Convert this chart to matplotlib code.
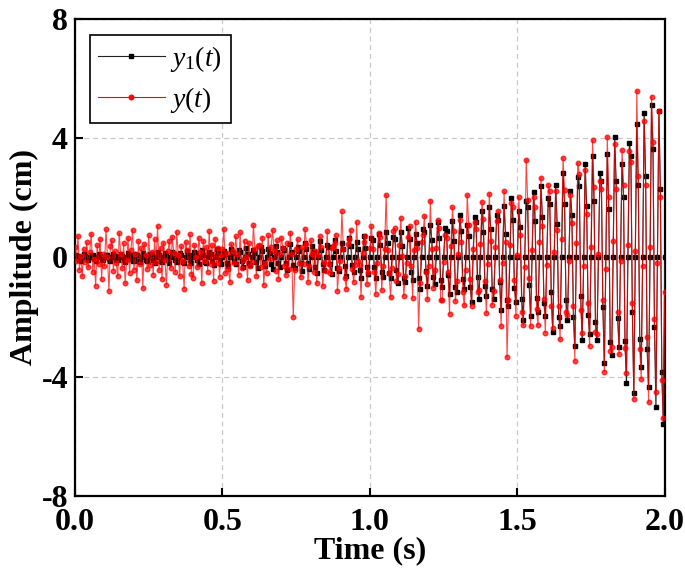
import numpy as np
import matplotlib
matplotlib.use("Agg")
import matplotlib.pyplot as plt

# time axis: 401 samples from 0 to 2 s
t_start, t_end, n_samples = 0.0, 2.0, 401

y1_vals = [
 0, 0.09, 0.05, -0.08, -0.11,  0, 0.11, 0.04, -0.06, -0.09,  0, 0.08, 0.07, -0.05, -0.12,  0, 0.12, 0.05, -0.08, -0.10,
 0, 0.10, 0.09, -0.06, -0.13,  0, 0.13, 0.05, -0.09, -0.09,  0, 0.11, 0.06, -0.07, -0.14,  0, 0.14, 0.10, -0.06, -0.12,
 0, 0.12, 0.07, -0.11, -0.15,  0, 0.16, 0.06, -0.08, -0.13,  0, 0.13, 0.11, -0.07, -0.17,  0, 0.17, 0.08, -0.12, -0.14,
 0, 0.14, 0.07, -0.09, -0.19,  0, 0.19, 0.12, -0.08, -0.16,  0, 0.16, 0.09, -0.14, -0.20,  0, 0.21, 0.08, -0.10, -0.17,
 0, 0.17, 0.14, -0.09, -0.23,  0, 0.24, 0.10, -0.15, -0.19,  0, 0.19, 0.12, -0.11, -0.26,  0, 0.27, 0.16, -0.10, -0.21,
 0, 0.22, 0.11, -0.18, -0.28,  0, 0.29, 0.14, -0.12, -0.23,  0, 0.24, 0.19, -0.13, -0.32,  0, 0.33, 0.13, -0.20, -0.25,
 0, 0.26, 0.16, -0.15, -0.35,  0, 0.36, 0.22, -0.14, -0.28,  0, 0.29, 0.15, -0.23, -0.38,  0, 0.40, 0.18, -0.17, -0.31,
 0, 0.32, 0.26, -0.17, -0.43,  0, 0.44, 0.17, -0.26, -0.34,  0, 0.35, 0.21, -0.20, -0.46,  0, 0.49, 0.29, -0.19, -0.37,
 0, 0.38, 0.20, -0.31, -0.51,  0, 0.54, 0.24, -0.23, -0.41,  0, 0.43, 0.34, -0.22, -0.57,  0, 0.60, 0.23, -0.36, -0.46,
 0, 0.47, 0.28, -0.27, -0.63,  0, 0.66, 0.39, -0.26, -0.50,  0, 0.52, 0.27, -0.42, -0.70,  0, 0.73, 0.32, -0.31, -0.55,
 0, 0.67, 0.59, -0.32, -0.69,  0, 0.78, 0.43, -0.48, -0.64,  0, 0.84, 0.47, -0.53, -0.69,  0, 0.70, 0.63, -0.41, -0.87,
 0, 0.86, 0.40, -0.70, -0.81,  0, 1.00, 0.63, -0.50, -0.74,  0, 0.78, 0.50, -0.69, -1.04,  0, 0.95, 0.84, -0.45, -0.97,
 0, 1.10, 0.60, -0.67, -0.90,  0, 1.20, 0.67, -0.76, -0.98,  0, 1.00, 0.90, -0.58, -1.24,  0, 1.22, 0.57, -1.00, -1.15,
 0, 1.42, 0.89, -0.71, -1.05,  0, 1.10, 0.72, -0.98, -1.48,  0, 1.35, 1.19, -0.64, -1.38,  0, 1.57, 0.86, -0.96, -1.29,
 0, 1.70, 0.95, -1.07, -1.38,  0, 1.42, 1.27, -0.82, -1.77,  0, 1.72, 0.80, -1.41, -1.62,  0, 2.01, 1.27, -1.01, -1.49,
 0, 1.56, 1.01, -1.39, -2.09,  0, 1.91, 1.69, -0.91, -1.95,  0, 2.21, 1.21, -1.35, -1.82,  0, 2.40, 1.35, -1.52, -1.96,
 0, 2.01, 1.81, -1.16, -2.50,  0, 2.44, 1.14, -2.01, -2.30,  0, 2.85, 1.80, -1.43, -2.11,  0, 2.22, 1.44, -1.98, -2.97,
 0, 2.71, 2.39, -1.29, -2.77,  0, 3.14, 1.72, -1.92, -2.58,  0, 3.41, 1.91, -2.16, -2.78,  0, 2.85, 2.56, -1.65, -3.55,
 0, 3.47, 1.62, -2.85, -3.27,  0, 4.05, 2.55, -2.03, -3.00,  0, 3.15, 2.04, -2.81, -4.21,  0, 3.84, 3.40, -1.83, -4.55,
 0, 4.47, 2.44, -2.73, -3.67,  0, 4.84, 2.72, -3.06, -4.35,  0, 5.10, 3.63, -2.34, -5.03,  0, 4.91, 2.29, -3.85, -5.57,
 0]

y_vals = [
 0.35, -0.12, 0.72, -0.41, 0.05,  -0.62, 0.28, -0.15, 0.51, -0.33,  0.18, 0.79, -0.48, -0.05, -0.95,  0.41, -0.22, 0.63, -0.71, 0.12,
 -0.28, 0.95, 0.02, -1.12, 0.37,  0.58, -0.44, 0.21, -0.18, -0.63,  0.82, 0.11, -0.36, 0.47, -0.85,  -0.09, 0.66, -0.52, 0.25, 0.92,
 -0.41, 0.13, -0.77, 0.54, -0.21,  0.31, -1.02, 0.45, 0.08, -0.38,  0.74, -0.26, 0.19, -0.58, 0.61,  -0.15, 1.05, -0.43, 0.33, -0.72,
 0.48, -0.08, -0.91, 0.22, 0.57,  -0.35, 0.69, 0.14, -0.47, 0.86,  0.07, -0.61, 0.38, -0.13, -1.05,  0.52, 0.24, -0.29, 0.78, -0.55,
 -0.68, 0.41, 0.03, -0.32, 0.66,  0.19, -0.84, 0.57, -0.11, 0.35,  -0.47, 0.88, -0.23, 0.42, -0.79,  0.63, -0.17, 0.31, -0.64, 0.09,
 0.28, 0.97, -0.53, 0.15, -0.37,  -0.81, 0.46, 0.22, -0.19, 0.71,  0.12, -0.58, 0.84, -0.36, -0.08,  0.55, 0.02, -0.74, 0.49, -0.27,
 -0.14, 1.08, 0.27, -0.62, 0.38,  0.43, -0.31, 0.67, -0.92, -0.18,  -0.52, 0.74, -0.06, 0.36, 0.91,  0.21, -0.45, 0.58, -0.71, 0.13,
 0.66, 0.32, -0.27, -0.58, 0.47,  -0.38, 0.83, 0.11, -2.00, -0.42,  0.27, 0.61, -0.17, -0.66, 0.34,  -0.23, 0.95, 0.44, -0.81, -0.29,
 0.58, 0.12, -0.49, 0.23, -0.87,  0.09, 0.72, 0.36, -0.97, -0.14,  -0.46, 0.88, -0.21, -0.53, 0.31,  0.37, 0.49, 0.76, -1.12, -0.35,
 -0.11, 1.55, 0.28, -0.68, -1.05,  0.44, 0.61, 0.93, -0.37, -0.82,  -0.25, 1.18, -0.12, -0.24, -1.33,  0.16, 0.52, 0.71, -0.89, -0.47,
 0.32, 1.05, 0.30, -0.48, -1.22,  -0.19, 0.83, 0.68, -1.09, -0.28,  0.28, 2.10, 0.26, -0.51, -1.33,  -0.36, 0.88, 0.98, -0.78, -0.54,
 0.41, 1.33, 0.05, -1.30, -0.63,  -0.17, 0.68, 1.05, -0.28, -1.35,  0.24, 1.20, 0.33, -2.39, -0.85,  0.52, 0.77, 1.39, -0.50, -1.39,
 -0.28, 1.91, 0.28, -1.02, -0.43,  0.33, 1.27, 1.00, -1.44, -1.43,  -0.15, 0.74, 0.65, -0.49, -1.88,  0.38, 1.68, 0.89, -1.47, -0.78,
 0.11, 1.25, 0.51, -1.16, -1.61,  -0.42, 2.10, 1.09, -0.71, -1.63,  0.29, 1.19, 0.96, -1.15, -1.09,  0.46, 1.87, 1.29, -0.78, -1.86,
 -0.21, 2.14, 0.55, -1.59, -1.11,  0.35, 1.21, 1.56, -0.74, -2.31,  -0.18, 2.22, 0.51, -3.35, -1.43,  0.41, 1.82, 1.69, -0.74, -1.95,
 0.07, 2.02, 0.76, -1.82, -2.28,  -0.33, 3.28, 1.94, -0.68, -2.30,  0.26, 2.03, 1.68, -1.74, -2.27,  0.52, 2.68, 1.07, -1.40, -2.52,
 -0.24, 2.44, 2.22, -1.62, -2.37,  0.19, 2.23, 0.93, -1.64, -2.75,  0.61, 3.33, 2.27, -1.84, -1.94,  -0.11, 2.08, 1.17, -1.64, -3.46,
 0.47, 3.17, 2.81, -1.75, -2.53,  -0.29, 2.92, 1.47, -1.53, -2.98,  0.36, 3.93, 2.38, -2.50, -2.56,  0.12, 2.58, 2.29, -1.41, -3.83,
 -0.38, 4.05, 2.02, -3.14, -2.99,  0.57, 3.82, 2.30, -1.84, -3.25,  -0.13, 3.62, 2.42, -3.04, -3.87,  0.41, 3.57, 3.21, -1.51, -4.74,
 0.22, 5.58, 2.74, -3.06, -4.07,  -0.27, 4.57, 2.42, -2.68, -4.85,  0.35, 5.38, 3.86, -2.06, -4.51,  -0.17, 4.93, 2.03, -4.11, -5.40,
 -1.16]

x_ticks = [0.0, 0.5, 1.0, 1.5, 2.0]
x_ticklabels = ["0.0", "0.5", "1.0", "1.5", "2.0"]
y_ticks = [-8, -4, 0, 4, 8]
y_ticklabels = ["-8", "-4", "0", "4", "8"]

t = np.linspace(t_start, t_end, n_samples)

plt.rcParams['font.family'] = ['Liberation Serif', 'DejaVu Serif']
plt.rcParams['mathtext.fontset'] = 'custom'
plt.rcParams['mathtext.rm'] = 'Liberation Serif'
plt.rcParams['mathtext.it'] = 'Liberation Serif:italic'

fig = plt.figure(figsize=(6.85, 5.74), dpi=100)
ax = fig.add_axes([0.1095, 0.1359, 0.861, 0.831])

ax.plot(t, y1_vals, color='#222222', lw=0.8, marker='s', ms=2.6,
        mec='black', mfc='black', label=r'$y_1(t)$', zorder=3)
ax.plot(t, y_vals, color='red', lw=0.8, marker='o', ms=3.3,
        mec='red', mfc='red', label=r'$y(t)$', alpha=0.72, zorder=4)

ax.set_xlim(0, 2.0)
ax.set_ylim(-8, 8)
ax.set_xticks(x_ticks)
ax.set_xticklabels(x_ticklabels)
ax.set_yticks(y_ticks)
ax.set_yticklabels(y_ticklabels)
ax.tick_params(direction='in', length=6, width=1.5, labelsize=23)
ax.tick_params(axis='x', pad=9)
ax.tick_params(axis='y', pad=5)
for lab in ax.get_xticklabels() + ax.get_yticklabels():
    lab.set_fontweight('bold')
ax.grid(True, color='#c8c8c8', linestyle=(0, (4, 3)), linewidth=0.9)
ax.set_axisbelow(True)
for sp in ax.spines.values():
    sp.set_linewidth(1.6)

ax.set_xlabel('Time (s)', fontsize=23, fontweight='bold', labelpad=-1)
ax.set_ylabel('Amplitude (cm)', fontsize=23, fontweight='bold', labelpad=2)

leg = ax.legend(loc='upper left', bbox_to_anchor=(0.025, 0.966), borderaxespad=0,
                fontsize=20, numpoints=1, fancybox=False, edgecolor='black',
                framealpha=1, handlelength=2.4, borderpad=0.3, labelspacing=0.4,
                handletextpad=0.2)
leg.get_frame().set_linewidth(1.2)
for h in leg.legend_handles:
    h.set_alpha(1)

fig.savefig('out.png', dpi=100)
